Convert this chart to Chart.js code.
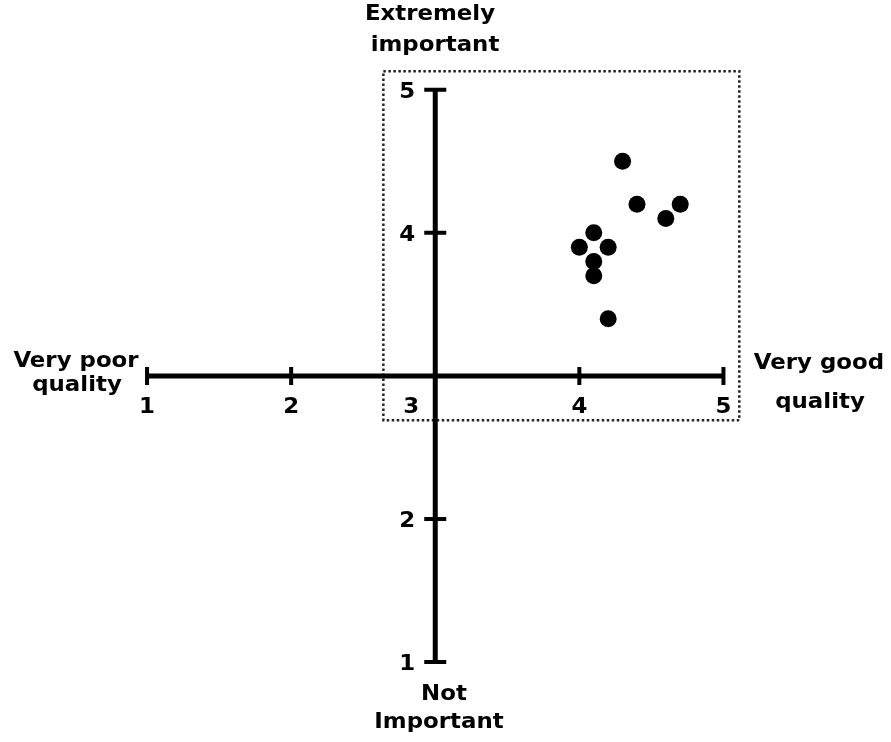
<!DOCTYPE html>
<html>
<head>
<meta charset="utf-8">
<script src="https://cdn.jsdelivr.net/npm/chart.js@4.4.1/dist/chart.umd.min.js"></script>
<style>
  body { margin: 0; background: #fff; }
  canvas { display: block; }
</style>
</head>
<body>
<canvas id="quadChart" width="891" height="742"></canvas>
<script>
// Quality vs importance - quadrant chart

// Données
var qualityScores    = [4.3, 4.4, 4.7, 4.6, 4.1, 4.0, 4.2, 4.1, 4.1, 4.2];
var importanceScores = [4.5, 4.2, 4.2, 4.1, 4.0, 3.9, 3.9, 3.8, 3.7, 3.4];

var xTicks = [1, 2, 3, 4, 5];
var yTicks = [1, 2, 4, 5];          // pas de "3" sur l'axe vertical
var axisCross = 3;

// cadre pointillé (valeurs en unités des axes)
var boxQuality    = [2.64, 5.11];
var boxImportance = [2.69, 5.13];

var FONT = "bold 22px 'DejaVu Sans', sans-serif";

var points = [];
for (var i = 0; i < qualityScores.length; i++) {
    points.push({ x: qualityScores[i], y: importanceScores[i] });
}

function drawLabel(ctx, txt, x, y) {
    ctx.save();
    ctx.translate(x, y);
    ctx.scale(1.04, 1);
    ctx.fillText(txt, 0, 0);
    ctx.restore();
}

var quadAxes = {
    id: 'quadAxes',
    beforeDatasetsDraw: function(chart) {
        var ctx = chart.ctx;
        var sx = chart.scales.x, sy = chart.scales.y;
        var cx = sx.getPixelForValue(axisCross);
        var cy = sy.getPixelForValue(axisCross);

        ctx.save();
        ctx.strokeStyle = '#000';

        // cadre pointillé
        ctx.lineWidth = 2.5;
        ctx.setLineDash([2.5, 2.5]);
        ctx.strokeStyle = '#222';
        ctx.strokeRect(sx.getPixelForValue(boxQuality[0]), sy.getPixelForValue(boxImportance[1]),
            sx.getPixelForValue(boxQuality[1]) - sx.getPixelForValue(boxQuality[0]),
            sy.getPixelForValue(boxImportance[0]) - sy.getPixelForValue(boxImportance[1]));
        ctx.setLineDash([]);
        ctx.strokeStyle = '#000';

        // axes
        ctx.lineWidth = 5;
        ctx.beginPath();
        ctx.moveTo(sx.getPixelForValue(xTicks[0]), cy);
        ctx.lineTo(sx.getPixelForValue(xTicks[xTicks.length - 1]), cy);
        ctx.moveTo(cx, sy.getPixelForValue(1));
        ctx.lineTo(cx, sy.getPixelForValue(5));
        ctx.stroke();

        // graduations
        ctx.lineWidth = 4;
        ctx.beginPath();
        xTicks.forEach(function(v) {
            if (v === axisCross) return;
            var px = sx.getPixelForValue(v);
            ctx.moveTo(px, cy - 9);
            ctx.lineTo(px, cy + 9);
        });
        yTicks.forEach(function(v) {
            var py = sy.getPixelForValue(v);
            ctx.moveTo(cx - 11, py);
            ctx.lineTo(cx + 11, py);
        });
        ctx.stroke();

        // étiquettes
        ctx.fillStyle = '#000';
        ctx.font = FONT;
        ctx.textAlign = 'center';
        ctx.textBaseline = 'middle';
        xTicks.forEach(function(v) {
            var px = sx.getPixelForValue(v);
            if (v === axisCross) px -= 24;
            drawLabel(ctx, String(v), px, cy + 31);
        });
        yTicks.forEach(function(v) {
            drawLabel(ctx, String(v), cx - 28, sy.getPixelForValue(v) + 2);
        });

        ctx.textBaseline = 'alphabetic';
        drawLabel(ctx, 'Very poor', 76, 367);
        drawLabel(ctx, 'quality', 77, 391);
        drawLabel(ctx, 'Very good', 819, 369);
        drawLabel(ctx, 'quality', 820, 408);
        drawLabel(ctx, 'Extremely', 430, 20);
        drawLabel(ctx, 'important', 435, 51);
        drawLabel(ctx, 'Not', 444, 700);
        drawLabel(ctx, 'Important', 439, 728);
        ctx.restore();
    }
};

var ctx = document.getElementById('quadChart');

var quadChart = new Chart(ctx, {
    type: 'scatter',
    data: {
        datasets: [{
            data: points,
            backgroundColor: '#000',
            borderWidth: 0,
            pointRadius: 8.5,
            pointHoverRadius: 8.5,
            clip: false
        }]
    },
    options: {
        responsive: false,
        animation: false,
        layout: { padding: { left: 75, right: 95.5, top: 18.3, bottom: 7.3 } },
        scales: {
            x: { type: 'linear', min: 0.5, max: 5.5, display: false },
            y: { type: 'linear', min: 0.5, max: 5.5, display: false }
        },
        plugins: {
            legend: { display: false },
            tooltip: { enabled: false }
        }
    },
    plugins: [quadAxes]
});
</script>
</body>
</html>
